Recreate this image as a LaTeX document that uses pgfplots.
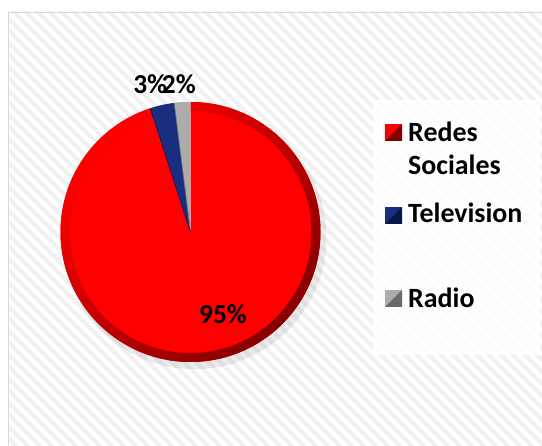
\documentclass[border=0pt]{standalone}
\usepackage{pgfplots}
\pgfplotsset{compat=1.18}
\usepackage{pgfplotstable}
\usepackage{fontspec}
\setmainfont{Carlito}

\definecolor{pieRed}{RGB}{255,0,0}
\definecolor{pieRedDark}{RGB}{130,0,0}
\definecolor{pieBlue}{RGB}{26,46,128}
\definecolor{pieBlueDark}{RGB}{10,22,70}
\definecolor{pieGray}{RGB}{172,172,172}
\definecolor{pieGrayDark}{RGB}{105,105,105}
\definecolor{stripe}{RGB}{241,241,241}
\definecolor{frameGray}{RGB}{217,217,217}

% share of each medium, in percent
\pgfplotstableread{
label      value
Redes      95
Television 3
Radio      2
}\piedata

% one slice: start angle, end angle, colour, rim colour
\newcommand\slice[4]{%
  \fill[#3] (axis cs:0,0) -- ++(#1:130bp) arc[start angle=#1, end angle=#2, radius=130bp] -- cycle;
  \shade[top color=#3, middle color=#3, bottom color=#4, shading angle=45]
    (axis cs:0,0) ++(#1:130bp) arc[start angle=#1, end angle=#2, radius=130bp]
    -- ++({#2+180}:9bp) arc[start angle=#2, end angle=#1, radius=121bp] -- cycle;
}

\begin{document}
\begin{tikzpicture}
\pgfplotstablegetelem{0}{value}\of\piedata\let\vA\pgfplotsretval
\pgfplotstablegetelem{1}{value}\of\piedata\let\vB\pgfplotsretval
\pgfplotstablegetelem{2}{value}\of\piedata\let\vC\pgfplotsretval
\pgfmathsetmacro\total{\vA+\vB+\vC}
\pgfmathsetmacro\angA{90-\vA/\total*360}
\pgfmathsetmacro\angB{\angA-\vB/\total*360}
\pgfmathsetmacro\angC{\angB-\vC/\total*360}

\fill[white] (0,0) rectangle (542bp,446bp);
\begin{scope}
  \clip (8bp,0) rectangle (542bp,434bp);
  \foreach \k in {-460,-448,...,560}
    \draw[stripe, line width=4.2bp] (\k bp,440bp) -- ++(450bp,-450bp);
  \draw[frameGray, line width=1bp] (8.5bp,-5bp) |- (550bp,433.5bp);
\end{scope}

\begin{axis}[
  at={(0,0)}, anchor=south west,
  x=130bp, y=130bp,
  xmin=-1.4654, xmax=2.7038,
  ymin=-1.6462, ymax=1.7846,
  hide axis, clip=false,
]
  \fill[black, opacity=0.08] (axis cs:0.03,-0.04) circle[radius=132bp];
  \slice{90}{\angA}{pieRed}{pieRedDark}
  \slice{\angA}{\angB}{pieBlue}{pieBlueDark}
  \slice{\angB}{\angC}{pieGray}{pieGrayDark}
  \draw[pieGrayDark, line width=0.6bp] (axis cs:0,0) -- ++(\angB:130bp);
  \draw[pieBlueDark, line width=0.6bp] (axis cs:0,0) -- ++(\angA:130bp);

  \begin{scope}[every node/.style={font=\fontsize{27.5}{30}\selectfont\bfseries}]
    \node at (axis cs:0.25,-0.63) {\vA\%};
    \node at (axis cs:-0.31,1.14) {\vB\%};
    \node at (axis cs:-0.09,1.14) {\vC\%};
  \end{scope}
\end{axis}

% legend
\fill[white, fill opacity=0.85] (373bp,91bp) rectangle (540bp,346bp);
\begin{scope}[every node/.style={font=\fontsize{28}{33}\selectfont\bfseries, anchor=base west, inner sep=0pt}]
  \fill[pieRed] (385bp,305bp) rectangle (402bp,322bp);
  \fill[pieRedDark] (385bp,305bp) -- (402bp,305bp) -- (402bp,322bp) -- cycle;
  \node at (408bp,304bp) {Redes};
  \node at (408bp,271bp) {Sociales};

  \fill[pieBlue] (385bp,222bp) rectangle (402bp,239bp);
  \fill[pieBlueDark] (385bp,222bp) -- (402bp,222bp) -- (402bp,239bp) -- cycle;
  \node at (408bp,223bp) {Television};

  \fill[pieGray] (385bp,139bp) rectangle (402bp,156bp);
  \fill[pieGrayDark] (385bp,139bp) -- (402bp,139bp) -- (402bp,156bp) -- cycle;
  \node at (408bp,138bp) {Radio};
\end{scope}
\pgfresetboundingbox
\path[use as bounding box] (0,0) rectangle (542bp,446bp);
\end{tikzpicture}
\end{document}
